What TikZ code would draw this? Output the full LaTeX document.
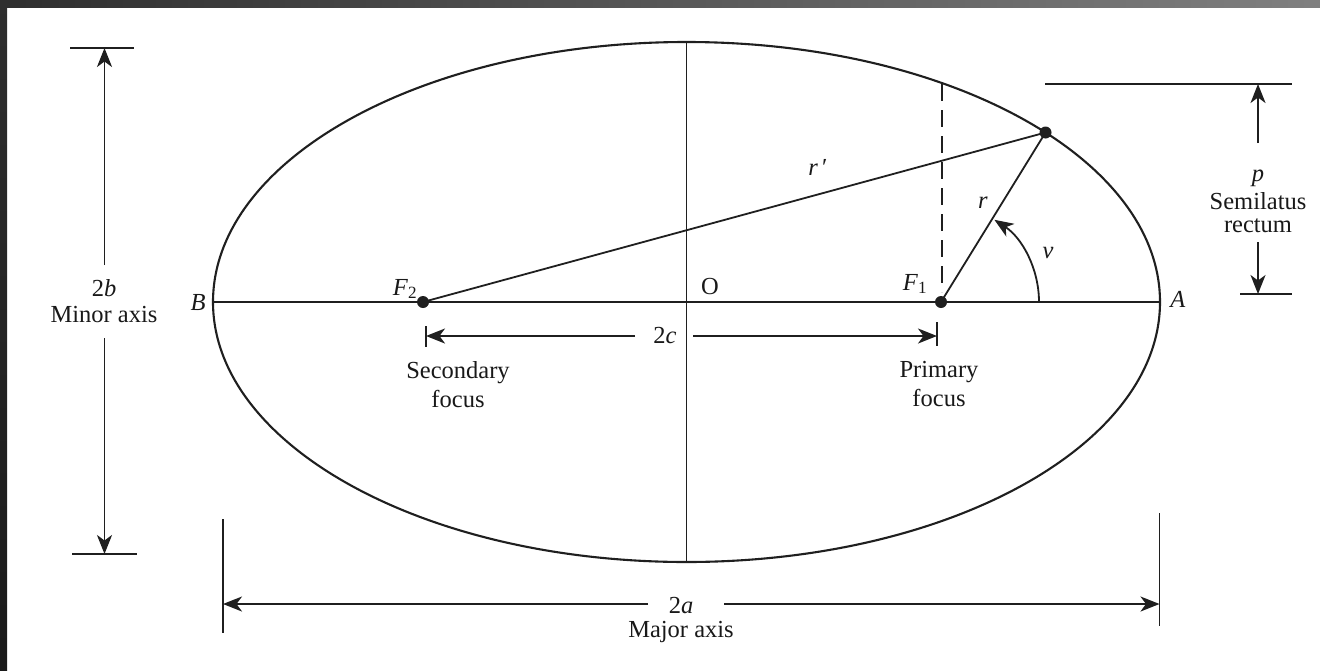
\documentclass[tikz,border=0pt]{standalone}
\usepackage{fontspec}
\setmainfont{Liberation Serif}
\usetikzlibrary{arrows.meta,calc}
\begin{document}
\begin{tikzpicture}[x=1pt,y=-1pt,
  ln/.style={line width=1.8pt, black!88},
  dimarrow/.style={line width=1.8pt, black!88, -{Stealth[length=19pt,width=15pt,inset=5.5pt]}},
  lbl/.style={font=\fontsize{24.5}{27}\selectfont, inner sep=0pt, text=black!90},
  dot/.style={fill=black!88}]
\useasboundingbox (0,0) rectangle (1320,670);
\fill[white] (0,0) rectangle (1320,670);
\shade[left color=black!82, right color=black!50] (0,0) rectangle (1320,7);
\shade[top color=black!82, bottom color=black!90] (0,0) rectangle (7,670);

% main points
\coordinate (O) at (686.5,302);
\coordinate (A) at (1160,302);
\coordinate (B) at (213,302);
\coordinate (F2) at (423,302);
\coordinate (F1) at (941,302);
\coordinate (P) at (1045.5,132.5);
\coordinate (T) at (686.5,42);
\coordinate (Bt) at (686.5,562);
\coordinate (Dt) at (942,84);
\coordinate (Db) at (942,292);
\coordinate (V0) at (1039,302);

% ellipse and axes
\draw[line width=2.1pt, black!88] (O) ellipse [x radius=473.5pt, y radius=260pt];
\draw[ln] (B) -- (A);
\draw[ln] (T) -- (Bt);
\draw[ln] (F2) -- (P);
\draw[ln] (F1) -- (P);
\draw[ln, dash pattern=on 17pt off 9pt] (Dt) -- (Db);
\fill[dot] (F2) circle[radius=6pt];
\fill[dot] (F1) circle[radius=6pt];
\fill[dot] (P) circle[radius=6pt];

% true anomaly arc
\draw[dimarrow] (V0) arc[start angle=0, end angle=57, radius=98pt];

% labels
\node[lbl] (lB) at (198,303) {\textit{B}};
\node[lbl] (lA) at (1178,299) {\textit{A}};
\node[lbl] (lO) at (710,287) {O};
\node[lbl] (lF2) at (405,289) {\textit{F}\textsubscript{2}};
\node[lbl] (lF1) at (915,284) {\textit{F}\textsubscript{1}};
\node[lbl] (lr) at (983,203) {\textit{r}};
\node[lbl] (lrp) at (818,167) {\textit{r}\,′};
\node[lbl] (lnu) at (1048,253) {\textit{ν}};

% semilatus rectum dimension
\coordinate (pt1) at (1045,84);
\coordinate (pt2) at (1292,84);
\coordinate (pb1) at (1240,294);
\coordinate (pb2) at (1292,294);
\coordinate (pT) at (1258,84);
\coordinate (pB) at (1258,294);
\draw[ln] (pt1) -- (pt2);
\draw[ln] (pb1) -- (pb2);
\node[lbl] (lp) at (1258,178) {\textit{p}};
\node[lbl] (lsl) at (1258,201) {Semilatus};
\node[lbl] (lrc) at (1258,226) {rectum};
\draw[dimarrow] (1258,143) -- (pT);
\draw[dimarrow] (1258,242) -- (pB);

% minor axis dimension
\coordinate (mt1) at (70,48);
\coordinate (mt2) at (134,48);
\coordinate (mb1) at (72,554);
\coordinate (mb2) at (137,554);
\coordinate (mT) at (104.5,48);
\coordinate (mB) at (104.5,554);
\draw[ln] (mt1) -- (mt2);
\draw[ln] (mb1) -- (mb2);
\node[lbl] (l2b) at (104,288) {2\textit{b}};
\node[lbl] (lmin) at (104,315) {Minor axis};
\draw[dimarrow] (104.5,265) -- (mT);
\draw[dimarrow] (104.5,338) -- (mB);

% 2c dimension
\coordinate (cl) at (426,336);
\coordinate (cr) at (937,336);
\draw[ln] (426,326) -- (426,347);
\draw[ln] (937,322) -- (937,346);
\node[lbl] (l2c) at (665,336) {2\textit{c}};
\draw[dimarrow] (635,336) -- (cl);
\draw[dimarrow] (693,336) -- (cr);
\node[lbl] (lsec) at (458,373) {Secondary};
\node[lbl] (lsecf) at (458,399) {focus};
\node[lbl] (lpri) at (939,372) {Primary};
\node[lbl] (lprif) at (939,398) {focus};

% major axis dimension
\coordinate (al) at (223,604);
\coordinate (ar) at (1159.5,604);
\draw[ln] (223,519) -- (223,633);
\draw[ln] (1159.5,513) -- (1159.5,626);
\node[lbl] (l2a) at (681,606) {2\textit{a}};
\node[lbl] (lmaj) at (681,632) {Major axis};
\draw[dimarrow] (648,604) -- (al);
\draw[dimarrow] (724,604) -- (ar);
\end{tikzpicture}
\end{document}
